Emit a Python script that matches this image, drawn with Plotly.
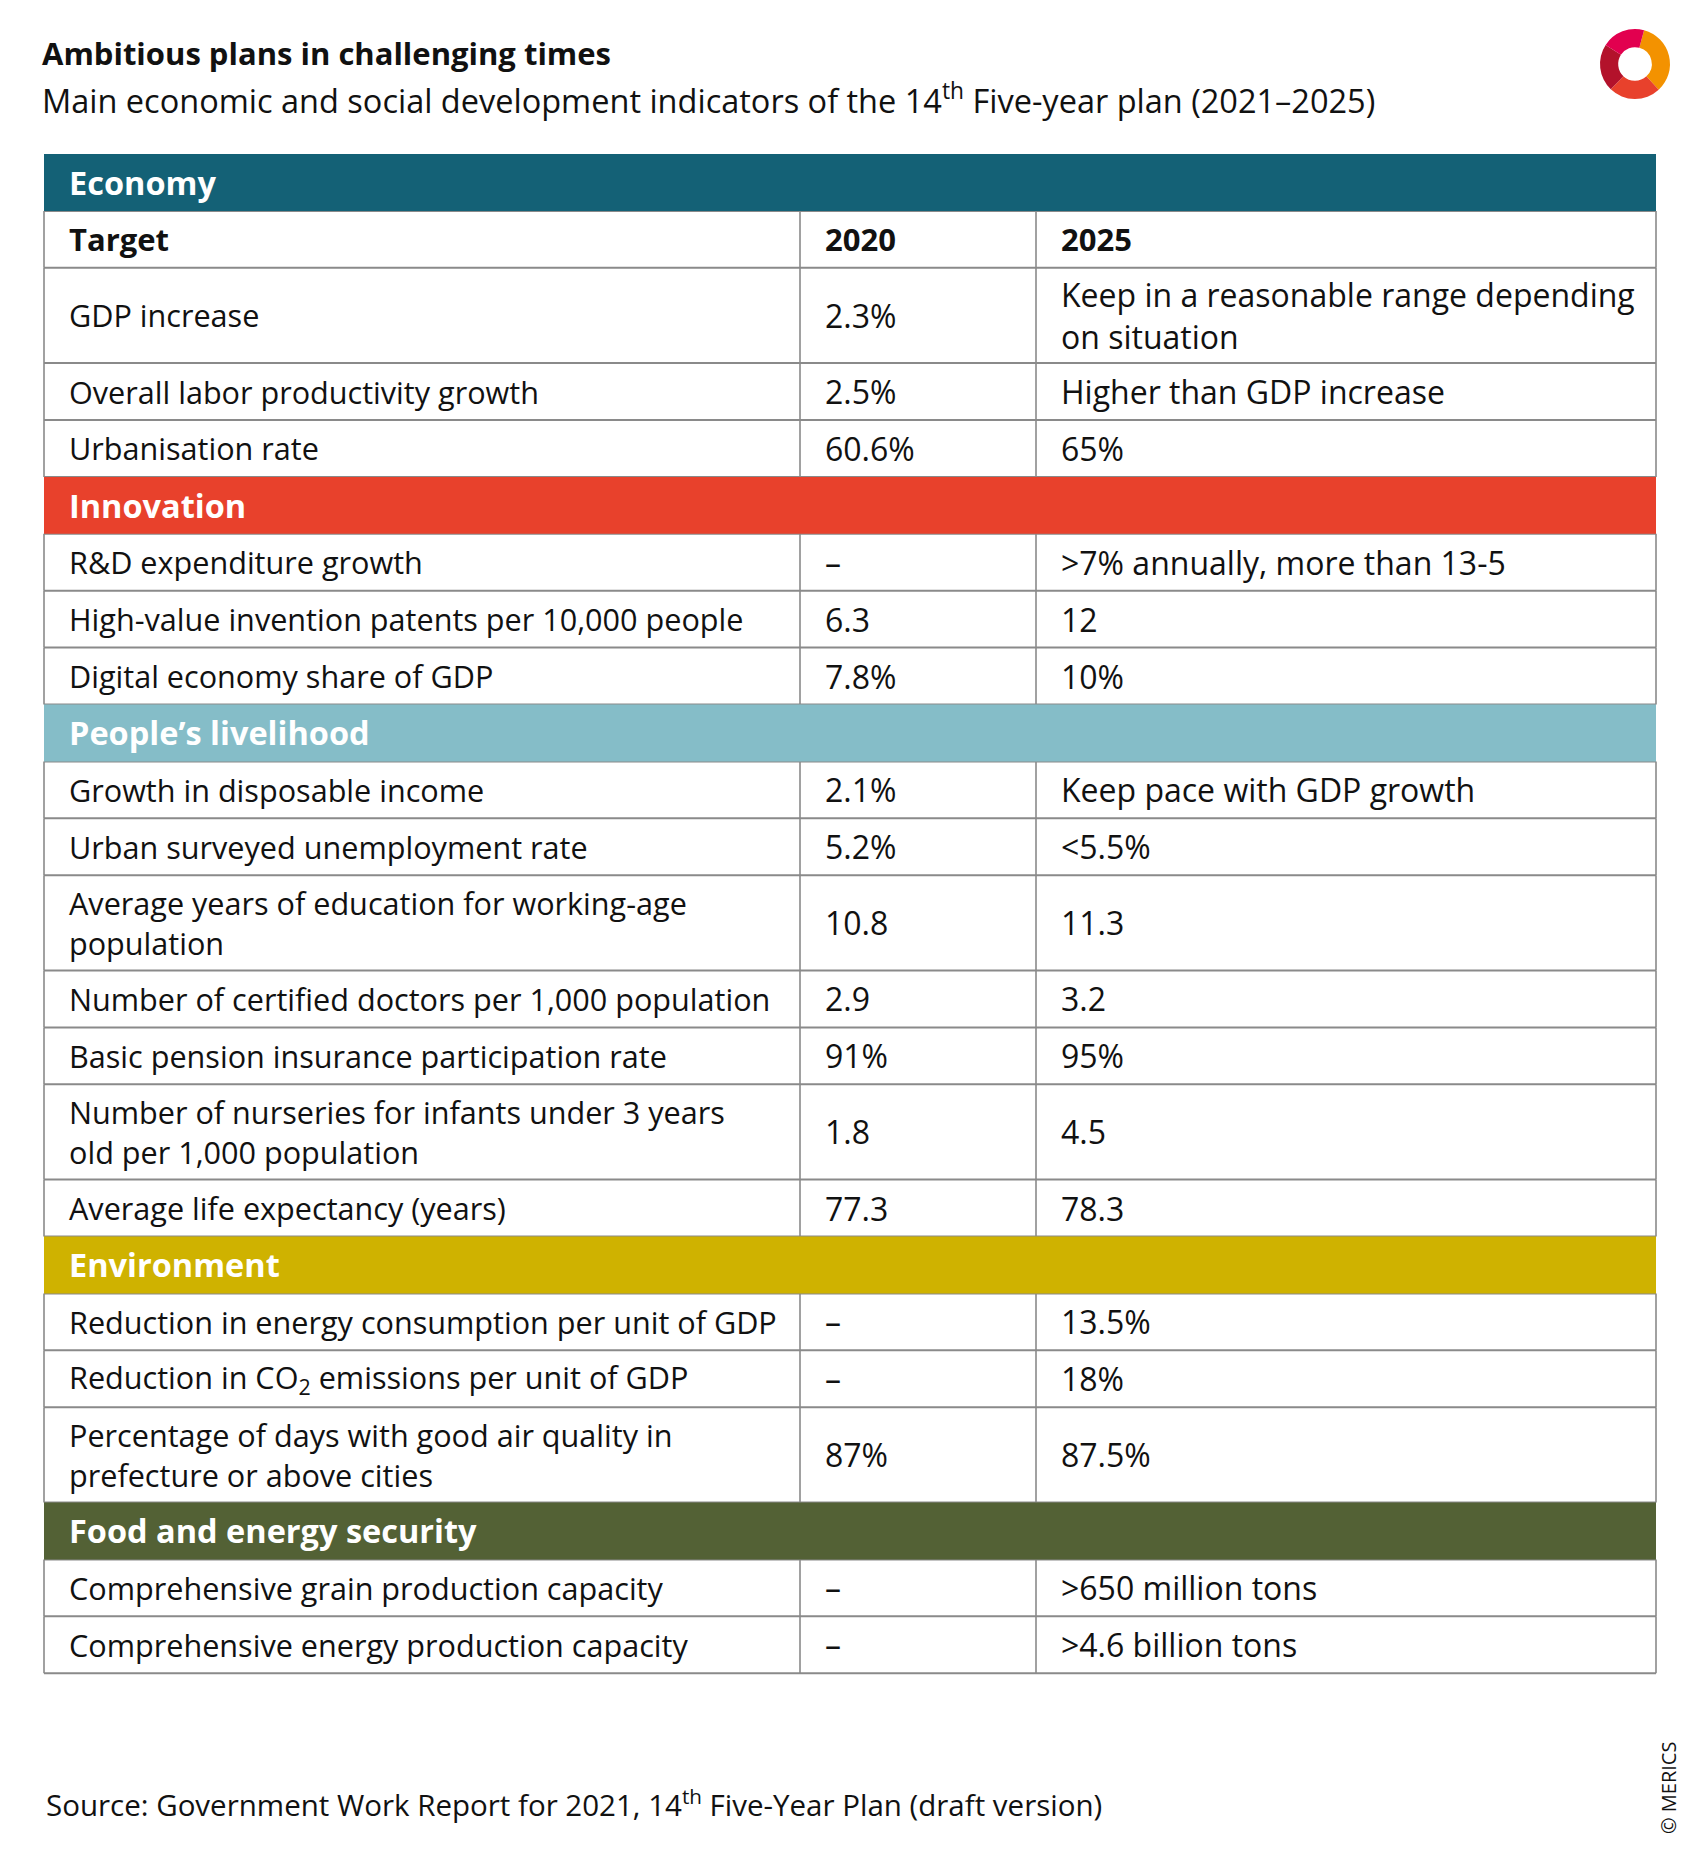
import plotly.graph_objects as go

# ---------------- data ----------------
TITLE = "Ambitious plans in challenging times"
SUBTITLE = "Main economic and social development indicators of the 14<sup>th</sup> Five-year plan (2021–2025)"
SOURCE = "Source: Government Work Report for 2021, 14<sup>th</sup> Five-Year Plan (draft version)"
CREDIT = "© MERICS"

SECTIONS = ["Economy", "Innovation", "People’s livelihood", "Environment", "Food and energy security"]
HEADER = ["Target", "2020", "2025"]

ROW_SECTION = [0, 0, 0,
               1, 1, 1,
               2, 2, 2, 2, 2, 2, 2,
               3, 3, 3,
               4, 4]
TARGETS = [
    "GDP increase",
    "Overall labor productivity growth",
    "Urbanisation rate",
    "R&D expenditure growth",
    "High-value invention patents per 10,000 people",
    "Digital economy share of GDP",
    "Growth in disposable income",
    "Urban surveyed unemployment rate",
    "Average years of education for working-age<br>population",
    "Number of certified doctors per 1,000 population",
    "Basic pension insurance participation rate",
    "Number of nurseries for infants under 3 years<br>old per 1,000 population",
    "Average life expectancy (years)",
    "Reduction in energy consumption per unit of GDP",
    "Reduction in CO<sub>2</sub> emissions per unit of GDP",
    "Percentage of days with good air quality in<br>prefecture or above cities",
    "Comprehensive grain production capacity",
    "Comprehensive energy production capacity",
]
V2020 = ["2.3%", "2.5%", "60.6%",
         "–", "6.3", "7.8%",
         "2.1%", "5.2%", "10.8", "2.9", "91%", "1.8", "77.3",
         "–", "–", "87%",
         "–", "–"]
V2025 = ["Keep in a reasonable range depending<br>on situation", "Higher than GDP increase", "65%",
         "&gt;7% annually, more than 13-5", "12", "10%",
         "Keep pace with GDP growth", "&lt;5.5%", "11.3", "3.2", "95%", "4.5", "78.3",
         "13.5%", "18%", "87.5%",
         "&gt;650 million tons", "&gt;4.6 billion tons"]

LOGO_PARTS = [34, 24, 22, 20]

# ---------------- style / layout ----------------
W, H = 1700, 1861
OFF = 8  # page body margin
FONT = "Open Sans"
SECTION_COLORS = ["#146176", "#E8412C", "#85BDC8", "#CFB200", "#536135"]
LOGO_COLORS = ["#F39200", "#E8412C", "#B3122B", "#E2004F"]
COL_X = [44, 800, 1036, 1656]
TABLE_TOP = 154
ROW_H = 56.9
LINE_H = 38.4
PAD = 23
COL_SIZES = [30.6, 32, 32]
GRID = "#8a8a8a"

# build row structure
rows = []  # (kind, cells, section)
for s, name in enumerate(SECTIONS):
    rows.append(("section", [name], s))
    if s == 0:
        rows.append(("header", HEADER, s))
    for i, sec in enumerate(ROW_SECTION):
        if sec == s:
            rows.append(("data", [TARGETS[i], V2020[i], V2025[i]], s))

shapes, annotations = [], []
y = TABLE_TOP
row_bounds = []
for kind, cells, s in rows:
    nlines = max(c.count("<br>") + 1 for c in cells)
    h = ROW_H + LINE_H * (nlines - 1)
    row_bounds.append((kind, y, y + h, cells, s))
    y += h
TABLE_BOTTOM = y

for kind, y0, y1, cells, s in row_bounds:
    if kind != "section":
        for cx in COL_X:
            shapes.append(dict(type="line", xref="x", yref="y", x0=cx, x1=cx, y0=y0, y1=y1,
                               line=dict(color=GRID, width=1.6)))
    shapes.append(dict(type="line", xref="x", yref="y", x0=COL_X[0], x1=COL_X[-1], y0=y1, y1=y1,
                       line=dict(color=GRID, width=2)))

for kind, y0, y1, cells, s in row_bounds:
    yc = (y0 + y1) / 2
    if kind == "section":
        shapes.append(dict(type="rect", xref="x", yref="y", x0=COL_X[0], x1=COL_X[-1], y0=y0, y1=y1,
                           fillcolor=SECTION_COLORS[s], line=dict(width=0), layer="above"))
        annotations.append(dict(text="<b>" + cells[0] + "</b>", x=COL_X[0] + PAD, y=yc, xref="x", yref="y",
                                xanchor="left", yanchor="middle", showarrow=False,
                                font=dict(family=FONT, size=32.5, color="white")))
    else:
        for j, c in enumerate(cells):
            txt = "<b>" + c + "</b>" if kind == "header" else c
            annotations.append(dict(text=txt, x=COL_X[j] + PAD, y=yc, xref="x", yref="y",
                                    xanchor="left", yanchor="middle", align="left", showarrow=False,
                                    font=dict(family=FONT, size=COL_SIZES[j] if kind == "data" else 31,
                                              color="#111111")))

# titles and footer (paper coordinates, compensating the page margin)
PW, PH = W - OFF, H - OFF
def px(xp): return (xp - OFF) / PW
def py(yp): return 1 - (yp - OFF) / PH

annotations += [
    dict(text="<b>" + TITLE + "</b>", x=px(40), y=py(53), xref="paper", yref="paper",
         xanchor="left", yanchor="middle", showarrow=False,
         font=dict(family=FONT, size=31, color="#111111")),
    dict(text=SUBTITLE, x=px(40), y=py(99), xref="paper", yref="paper",
         xanchor="left", yanchor="middle", showarrow=False,
         font=dict(family=FONT, size=32.5, color="#111111")),
    dict(text=SOURCE, x=px(44), y=py(1803), xref="paper", yref="paper",
         xanchor="left", yanchor="middle", showarrow=False,
         font=dict(family=FONT, size=29.5, color="#111111")),
    dict(text=CREDIT, x=px(1668), y=py(1788), xref="paper", yref="paper",
         xanchor="center", yanchor="middle", showarrow=False, textangle=-90,
         font=dict(family=FONT, size=20, color="#111111")),
]

fig = go.Figure()
fig.add_trace(go.Scatter(x=[COL_X[0], COL_X[-1]], y=[TABLE_TOP, TABLE_BOTTOM], mode="markers",
                         marker=dict(opacity=0), hoverinfo="skip", showlegend=False))
fig.add_trace(go.Pie(values=LOGO_PARTS, marker=dict(colors=LOGO_COLORS, line=dict(width=0)),
                     hole=0.48, sort=False, direction="clockwise", rotation=15,
                     textinfo="none", hoverinfo="skip", showlegend=False,
                     domain=dict(x=[px(1600), px(1670)], y=[py(99), py(29)])))

fig.update_layout(
    width=PW, height=PH, margin=dict(l=0, r=0, t=0, b=0),
    paper_bgcolor="white", plot_bgcolor="white",
    xaxis=dict(range=[OFF, W], visible=False, fixedrange=True),
    yaxis=dict(range=[H, OFF], visible=False, fixedrange=True),
    shapes=shapes, annotations=annotations,
)

fig.write_html("out.html")
